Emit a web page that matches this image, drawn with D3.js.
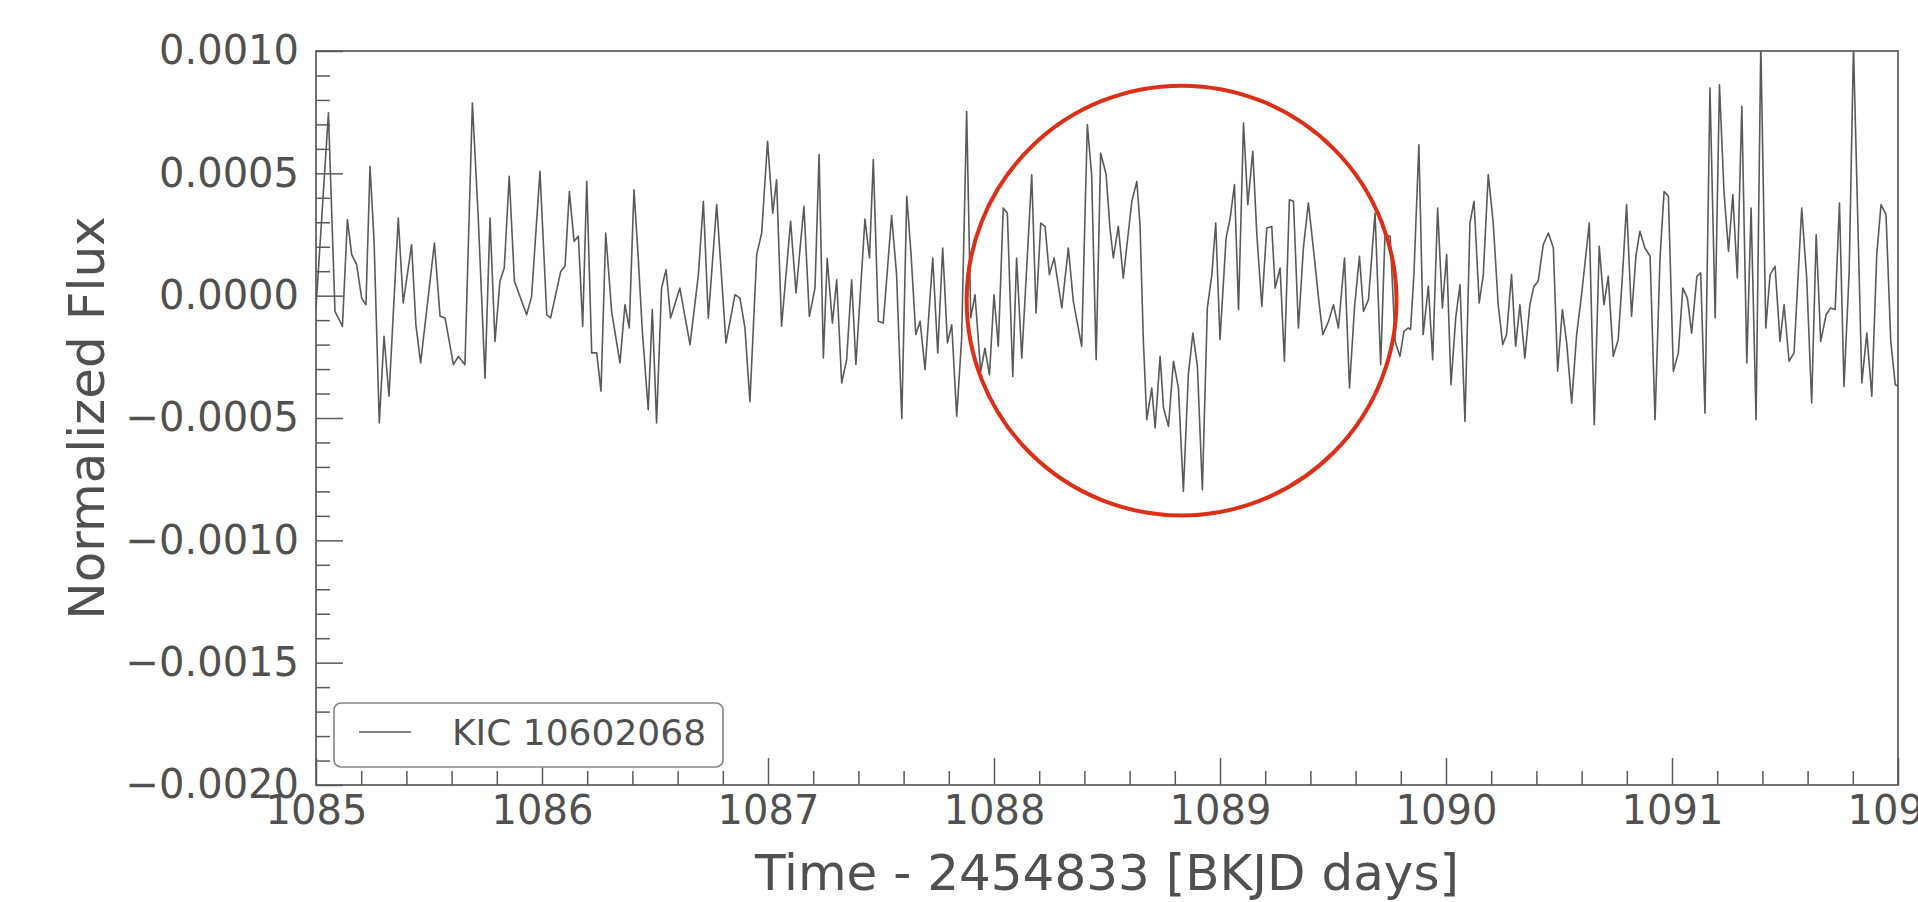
<!DOCTYPE html>
<html><head><meta charset="utf-8">
<script src="https://cdn.jsdelivr.net/npm/d3@7"></script>
<style>html,body{margin:0;padding:0;background:#fff;overflow:hidden}
svg{display:block;font-family:"DejaVu Sans",sans-serif}</style></head>
<body><svg id="chart" width="1918" height="902"></svg>
<script>
// ---- data ----
const time = [
1085.000,1085.055,1085.084,1085.117,1085.139,1085.158,1085.180,1085.202,1085.221,1085.239,1085.257,1085.280,1085.301,1085.323,1085.364,1085.386,1085.423,1085.442,1085.463,1085.524,1085.549,1085.571,1085.608,1085.630,1085.659,1085.692,1085.718,1085.748,1085.770,1085.792,1085.814,1085.833,1085.855,1085.878,1085.932,1085.954,1085.991,1086.021,1086.038,1086.083,1086.102,1086.121,1086.142,1086.161,1086.180,1086.198,
1086.220,1086.242,1086.261,1086.282,1086.308,1086.345,1086.367,1086.386,1086.407,1086.426,1086.444,1086.470,1086.488,1086.507,1086.529,1086.549,1086.569,1086.610,1086.655,1086.692,1086.714,1086.736,1086.773,1086.814,1086.854,1086.876,1086.898,1086.920,1086.950,1086.972,1086.998,1087.021,1087.038,1087.060,1087.100,1087.124,1087.159,1087.183,1087.208,1087.226,1087.245,1087.262,1087.285,1087.304,1087.326,1087.348,1087.370,1087.389,
1087.429,1087.449,1087.466,1087.488,1087.510,1087.547,1087.569,1087.592,1087.614,1087.633,1087.654,1087.673,1087.695,1087.729,1087.751,1087.773,1087.794,1087.813,1087.835,1087.857,1087.879,1087.897,1087.916,1087.941,1087.960,1087.980,1088.000,1088.019,1088.041,1088.059,1088.083,1088.100,1088.123,1088.167,1088.186,1088.207,1088.226,1088.245,1088.266,1088.300,1088.329,1088.351,1088.388,1088.413,1088.432,1088.452,1088.472,1088.496,1088.513,1088.528,1088.550,1088.572,
1088.610,1088.632,1088.646,1088.661,1088.676,1088.698,1088.713,1088.735,1088.750,1088.772,1088.794,1088.816,1088.838,1088.860,1088.880,1088.900,1088.922,1088.944,1088.964,1088.981,1089.000,1089.027,1089.045,1089.064,1089.082,1089.104,1089.123,1089.145,1089.163,1089.185,1089.207,1089.229,1089.244,1089.266,1089.285,1089.307,1089.325,1089.347,1089.369,1089.391,1089.413,1089.436,1089.455,1089.480,1089.502,1089.524,1089.551,1089.573,1089.595,1089.617,1089.635,1089.657,1089.686,1089.711,1089.730,1089.753,1089.775,
1089.796,1089.814,1089.833,1089.843,1089.858,1089.880,1089.899,1089.922,1089.941,1089.963,1089.984,1090.003,1090.022,1090.043,1090.062,1090.084,1090.106,1090.124,1090.147,1090.165,1090.187,1090.209,1090.231,1090.251,1090.268,1090.290,1090.308,1090.327,1090.349,1090.371,1090.389,1090.408,1090.430,1090.453,1090.475,1090.494,1090.515,1090.534,1090.556,1090.578,1090.600,1090.634,1090.656,1090.678,1090.699,1090.718,1090.740,1090.762,1090.781,1090.799,1090.821,1090.841,1090.858,1090.880,1090.903,1090.925,1090.947,1090.965,1090.984,
1091.006,1091.028,1091.048,1091.068,1091.087,1091.110,1091.127,1091.146,1091.168,1091.191,1091.210,1091.230,1091.250,1091.269,1091.289,1091.309,1091.331,1091.350,1091.372,1091.393,1091.415,1091.434,1091.456,1091.478,1091.496,1091.518,1091.540,1091.574,1091.596,1091.618,1091.638,1091.658,1091.682,1091.702,1091.722,1091.741,1091.761,1091.784,1091.803,1091.840,1091.862,1091.884,1091.906,1091.925,1091.947,1091.968,1091.988,1092.002
];
const flux = [
-0.50e-4,7.47e-4,-0.64e-4,-1.25e-4,3.11e-4,1.68e-4,1.27e-4,-0.10e-4,-0.37e-4,5.29e-4,2.22e-4,-5.20e-4,-1.66e-4,-4.11e-4,3.17e-4,-0.30e-4,2.08e-4,-1.19e-4,-2.75e-4,2.15e-4,-0.84e-4,-0.91e-4,-2.82e-4,-2.48e-4,-2.82e-4,7.87e-4,3.17e-4,-3.37e-4,3.17e-4,-1.87e-4,0.59e-4,1.13e-4,4.88e-4,0.59e-4,-0.78e-4,-0.03e-4,5.08e-4,-0.78e-4,-0.91e-4,0.99e-4,1.20e-4,4.26e-4,2.22e-4,2.43e-4,-1.25e-4,4.67e-4,
-2.34e-4,-2.34e-4,-3.90e-4,2.56e-4,-0.64e-4,-2.75e-4,-0.37e-4,-1.32e-4,4.33e-4,1.53e-4,-1.46e-4,-4.66e-4,-0.57e-4,-5.20e-4,0.31e-4,1.06e-4,-0.91e-4,0.31e-4,-2.00e-4,0.86e-4,3.86e-4,-0.91e-4,3.72e-4,-1.93e-4,0.04e-4,-0.10e-4,-1.32e-4,-4.33e-4,1.68e-4,2.56e-4,6.31e-4,3.37e-4,4.74e-4,-1.25e-4,3.04e-4,0.11e-4,3.65e-4,-0.85e-4,0.31e-4,5.77e-4,-2.55e-4,1.53e-4,-1.12e-4,0.65e-4,-3.57e-4,-2.62e-4,0.65e-4,-2.81e-4,
3.13e-4,1.54e-4,5.56e-4,-1.05e-4,-1.12e-4,3.27e-4,0.86e-4,-5.02e-4,4.06e-4,1.68e-4,-1.59e-4,-1.05e-4,-3.02e-4,1.54e-4,-2.34e-4,1.95e-4,-1.93e-4,-1.19e-4,-4.93e-4,-1.73e-4,7.53e-4,-0.91e-4,0.04e-4,-3.10e-4,-2.15e-4,-3.24e-4,0.04e-4,-2.07e-4,3.58e-4,3.38e-4,-3.30e-4,1.54e-4,-2.55e-4,4.94e-4,-0.71e-4,2.97e-4,2.83e-4,0.86e-4,1.54e-4,-0.50e-4,1.95e-4,-0.23e-4,-2.07e-4,6.99e-4,4.95e-4,-2.62e-4,5.83e-4,4.95e-4,2.77e-4,1.54e-4,2.83e-4,0.72e-4,
3.86e-4,4.67e-4,2.90e-4,-1.87e-4,-5.07e-4,-3.78e-4,-5.41e-4,-2.48e-4,-4.59e-4,-5.34e-4,-2.68e-4,-3.77e-4,-8.00e-4,-3.23e-4,-1.53e-4,-2.89e-4,-7.93e-4,-0.50e-4,0.86e-4,2.97e-4,-1.80e-4,2.36e-4,3.17e-4,4.54e-4,-0.57e-4,7.06e-4,3.72e-4,5.90e-4,2.49e-4,-0.44e-4,2.77e-4,2.83e-4,0.31e-4,1.13e-4,-2.68e-4,3.92e-4,3.86e-4,-1.32e-4,1.95e-4,3.79e-4,1.95e-4,-0.10e-4,-1.59e-4,-1.05e-4,-0.37e-4,-1.32e-4,1.54e-4,-3.77e-4,-0.50e-4,1.61e-4,-0.64e-4,-0.16e-4,3.38e-4,-2.82e-4,2.49e-4,2.43e-4,-1.87e-4,
-2.48e-4,-1.46e-4,-1.32e-4,-1.39e-4,0.86e-4,6.17e-4,-1.59e-4,0.38e-4,-2.62e-4,3.58e-4,-0.50e-4,1.68e-4,-3.64e-4,-0.91e-4,0.45e-4,-5.14e-4,2.97e-4,3.86e-4,-0.30e-4,0.86e-4,4.95e-4,2.97e-4,-0.37e-4,-2.00e-4,-1.59e-4,0.86e-4,-2.07e-4,-0.37e-4,-2.55e-4,-0.37e-4,0.38e-4,0.59e-4,2.08e-4,2.56e-4,1.95e-4,-3.09e-4,-0.57e-4,-1.93e-4,-4.39e-4,-1.59e-4,0.04e-4,2.97e-4,-5.27e-4,2.02e-4,-0.37e-4,0.79e-4,-2.48e-4,-1.80e-4,0.86e-4,3.72e-4,-0.84e-4,1.68e-4,2.63e-4,1.95e-4,1.61e-4,-5.07e-4,1.54e-4,4.26e-4,4.06e-4,
-3.09e-4,-2.34e-4,0.31e-4,-0.10e-4,-1.53e-4,0.79e-4,0.93e-4,-4.80e-4,8.49e-4,-0.91e-4,8.62e-4,4.26e-4,1.81e-4,4.13e-4,0.72e-4,7.74e-4,-2.75e-4,3.58e-4,-5.07e-4,10.3e-4,-1.32e-4,0.86e-4,1.20e-4,-1.87e-4,-0.37e-4,-2.68e-4,-2.34e-4,3.58e-4,0.72e-4,-4.39e-4,2.49e-4,-1.87e-4,-0.78e-4,-0.50e-4,-0.57e-4,3.79e-4,-3.71e-4,0.99e-4,10.2e-4,-3.57e-4,-1.53e-4,-4.11e-4,1.68e-4,3.72e-4,3.31e-4,-1.87e-4,-3.64e-4,-3.71e-4
];
const xTicks = [1085, 1086, 1087, 1088, 1089, 1090, 1091, 1092];
const yTicks = [0.0010, 0.0005, 0.0000, -0.0005, -0.0010, -0.0015, -0.0020];
const seriesLabel = "KIC 10602068";
const xLabel = "Time - 2454833 [BKJD days]";
const yLabel = "Normalized Flux";
const highlight = { time: 1088.83, flux: -0.00002, radiusDays: 0.951 };

// ---- layout ----
const plot = { left: 316, right: 1898, top: 51, bottom: 785 };
const textColor = "#505050", spineColor = "#5a5a5a", lineColor = "#5a5a5a";
const font = '"DejaVu Sans",sans-serif';

const svg = d3.select("#chart");
const x = d3.scaleLinear().domain([1085, 1092]).range([plot.left, plot.right]);
const y = d3.scaleLinear().domain([-0.002, 0.001]).range([plot.bottom, plot.top]);

svg.append("defs").append("clipPath").attr("id", "clip")
  .append("rect").attr("x", plot.left).attr("y", plot.top)
  .attr("width", plot.right - plot.left).attr("height", plot.bottom - plot.top);

// minor ticks
const xMinor = d3.range(1085, 1092.001, 0.2).filter(v => Math.abs(v - Math.round(v)) > 1e-6);
const yMinor = d3.range(-20, 11, 1).map(v => v * 1e-4).filter(v => Math.abs(v * 2e3 - Math.round(v * 2e3)) > 1e-6);

svg.append("g").attr("transform", `translate(0,${plot.bottom})`)
  .call(d3.axisBottom(x).tickValues(xMinor).tickFormat("").tickSizeInner(-14).tickSizeOuter(0))
  .call(g => g.select(".domain").remove())
  .selectAll("line").attr("stroke", spineColor).attr("stroke-width", 1.5);
svg.append("g").attr("transform", `translate(${plot.left},0)`)
  .call(d3.axisLeft(y).tickValues(yMinor).tickFormat("").tickSizeInner(-14).tickSizeOuter(0))
  .call(g => g.select(".domain").remove())
  .selectAll("line").attr("stroke", spineColor).attr("stroke-width", 1.5);

// major ticks
const xAxis = svg.append("g").attr("transform", `translate(0,${plot.bottom})`)
  .call(d3.axisBottom(x).tickValues(xTicks).tickFormat(d3.format("d")).tickSizeInner(-27).tickSizeOuter(0).tickPadding(11));
xAxis.select(".domain").remove();
xAxis.selectAll("line").attr("stroke", spineColor).attr("stroke-width", 1.5);
xAxis.selectAll("text").attr("fill", textColor).style("font-size", "40px").style("font-family", font);

const yAxis = svg.append("g").attr("transform", `translate(${plot.left},0)`)
  .call(d3.axisLeft(y).tickValues(yTicks).tickFormat(d3.format(".4f")).tickSizeInner(-27).tickSizeOuter(0).tickPadding(17));
yAxis.select(".domain").remove();
yAxis.selectAll("line").attr("stroke", spineColor).attr("stroke-width", 1.5);
yAxis.selectAll("text").attr("fill", textColor).style("font-size", "40px").style("font-family", font);

// data line
const pts = time.map((t, i) => [t, flux[i]]);
svg.append("path").datum(pts)
  .attr("clip-path", "url(#clip)")
  .attr("fill", "none").attr("stroke", lineColor).attr("stroke-width", 1.6)
  .attr("stroke-linejoin", "round")
  .attr("d", d3.line().x(d => x(d[0])).y(d => y(d[1])));

// frame
svg.append("rect").attr("x", plot.left).attr("y", plot.top)
  .attr("width", plot.right - plot.left).attr("height", plot.bottom - plot.top)
  .attr("fill", "none").attr("stroke", spineColor).attr("stroke-width", 1.7);

// highlight circle
svg.append("circle")
  .attr("cx", x(highlight.time)).attr("cy", y(highlight.flux))
  .attr("r", x(highlight.time + highlight.radiusDays) - x(highlight.time))
  .attr("fill", "none").attr("stroke", "#dc2f18").attr("stroke-width", 4);

// legend
const lg = svg.append("g");
lg.append("rect").attr("x", 334).attr("y", 703).attr("width", 389).attr("height", 64).attr("rx", 7)
  .attr("fill", "#fff").attr("stroke", "#8a8a8a").attr("stroke-width", 1.7);
lg.append("line").attr("x1", 359).attr("x2", 411).attr("y1", 732).attr("y2", 732)
  .attr("stroke", lineColor).attr("stroke-width", 1.6);
lg.append("text").attr("x", 452).attr("y", 745).attr("fill", textColor)
  .style("font-size", "36px").text(seriesLabel);

// axis labels
svg.append("text").attr("x", (plot.left + plot.right) / 2).attr("y", 890)
  .attr("text-anchor", "middle").attr("fill", textColor).style("font-size", "50px").text(xLabel);
svg.append("text").attr("transform", `translate(104,${(plot.top + plot.bottom) / 2}) rotate(-90)`)
  .attr("text-anchor", "middle").attr("fill", textColor).style("font-size", "50px").text(yLabel);
</script>
</body></html>
